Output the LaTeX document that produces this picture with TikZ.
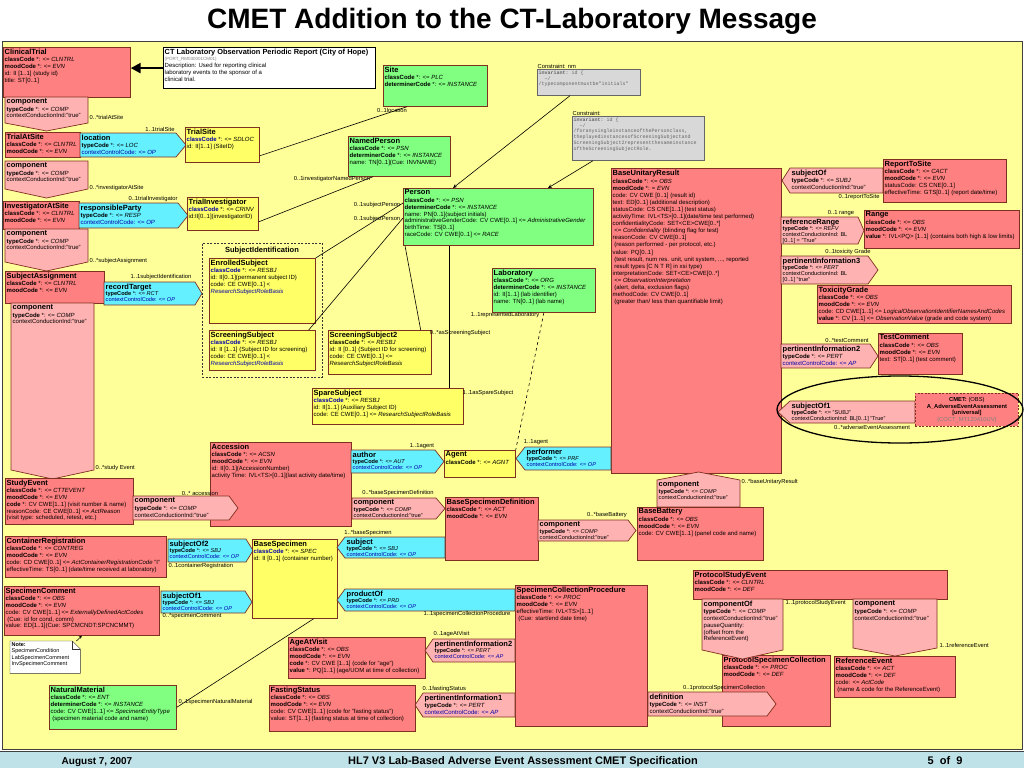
\documentclass[tikz,border=0pt]{standalone}
\usepackage{fontspec}
\setmainfont{Liberation Sans}
\setmonofont{Liberation Mono}
\usetikzlibrary{arrows.meta}
\definecolor{bgyellow}{RGB}{255,255,153}
\definecolor{clsred}{RGB}{255,128,128}
\definecolor{relpink}{RGB}{255,178,178}
\definecolor{ctlcyan}{RGB}{100,240,255}
\definecolor{entgreen}{RGB}{128,255,128}
\definecolor{roleyellow}{RGB}{255,255,102}
\definecolor{bord}{RGB}{128,48,32}
\definecolor{hlblue}{RGB}{0,0,170}
\definecolor{consgray}{RGB}{216,216,216}
\definecolor{footblue}{RGB}{190,226,232}
\newcommand\cn[1]{{\fontsize{7.5}{8}\selectfont\bfseries #1}\\[0.8pt]}
\tikzset{
  cls/.style={draw=bord, line width=0.7pt, fill=clsred, anchor=north west, inner sep=0pt},
  ent/.style={cls, fill=entgreen},
  role/.style={cls, fill=roleyellow},
  cons/.style={cls, fill=consgray, draw=black!60},
  rel/.style={draw=bord, line width=0.7pt, fill=relpink},
  ctl/.style={rel, fill=ctlcyan},
  txt/.style={anchor=north west, align=left, inner sep=1.5pt},
  tight/.style={txt, font=\fontsize{5.6}{5.9}\selectfont},
  ctxt/.style={txt, font=\fontsize{5}{5.8}\selectfont\ttfamily, text=black!60},
  lbl/.style={font=\fontsize{5.8}{6}\selectfont, inner sep=0.5pt},
  conn/.style={black, line width=0.6pt},
}
\begin{document}
\begin{tikzpicture}[x=1pt, y=-1pt, font=\fontsize{6}{6.8}\selectfont]
\useasboundingbox (0,0) rectangle (1024,768);
\fill[white] (0,0) rectangle (1024,768);
\draw[fill=bgyellow, draw=black!75, line width=0.8pt] (2,41) rectangle (1022,749);
\fill[footblue] (0,752) rectangle (1024,768);
\draw[black!75, line width=1pt] (0,751) -- (1024,751);
\node[anchor=base, font=\fontsize{28}{30}\selectfont\bfseries] (title) at (512,29) {CMET Addition to the CT-Laboratory Message};
\node[anchor=base, font=\fontsize{10}{12}\selectfont\bfseries] (date) at (97,764) {August 7, 2007};
\node[anchor=base, font=\fontsize{11}{12}\selectfont\bfseries] (spec) at (523,764) {HL7 V3 Lab-Based Adverse Event Assessment CMET Specification};
\node[anchor=base, font=\fontsize{11}{12}\selectfont\bfseries] (page) at (945,764) {5\ \ of\ \ 9};

% entry point
\node[draw=black, line width=1.2pt, fill=white, anchor=north west, minimum width=212pt, minimum height=41pt, inner sep=0pt] (hdr) at (163,47) {};
\node[txt] (hdr-t) at (hdr.north west) {{\fontsize{7.4}{8}\selectfont\bfseries CT Laboratory Observation Periodic Report (City of Hope)}\\{\fontsize{4.5}{5}\selectfont\color{gray}(PORT\_RM030001CM01)}\\Description: Used for reporting clinical\\laboratory events to the sponsor of a\\clinical trial.};
\node[cls, minimum width=127pt, minimum height=50pt] (clin) at (3,47) {};
\node[txt] (clin-t) at (clin.north west) {\cn{ClinicalTrial}\textbf{classCode} *: <= \textit{CLNTRL}\\\textbf{moodCode} *: <= \textit{EVN}\\id: II [1..1] (study id)\\title: ST[0..1]};
\draw[line width=2.5pt, -{Triangle[length=10pt, width=10pt]}] (hdr.west) -- (hdr.west -| clin.east);

% trial site
\draw[rel] (5,97) -- (88,97) -- (88,123) -- (46.5,131) -- (5,123) -- cycle;
\node[txt] (compa-t) at (5,97) {\cn{component}\textbf{typeCode} *: <= \textit{COMP}\\contextConductionInd:"true"};
\node[lbl, anchor=west] (la) at (89,117) {0..*trialAtSite};
\node[cls, minimum width=75pt, minimum height=25pt] (tas) at (5,132) {};
\node[txt] (tas-t) at (tas.north west) {\cn{TrialAtSite}\textbf{classCode} *: <= \textit{CLNTRL}\\\textbf{moodCode} *: <= \textit{EVN}};
\draw[ctl] (80,133) -- (176,133) -- (186,145) -- (176,157) -- (80,157) -- cycle;
\node[txt] (loc-t) at (80,133) {\cn{location}\textbf{typeCode} *: <= \textit{LOC}\\\color{hlblue}contextControlCode: <= \textit{OP}};
\node[lbl] (lb) at (160,129) {1..1trialSite};
\node[role, minimum width=74pt, minimum height=35pt] (tsite) at (185,127) {};
\node[txt] (tsite-t) at (tsite.north west) {\cn{TrialSite}{\color{hlblue}\textbf{classCode}} *: <= \textit{SDLOC}\\id: II[1..1] (SiteID)};

% investigator
\draw[rel] (5,161) -- (88,161) -- (88,189) -- (46.5,198) -- (5,189) -- cycle;
\node[txt] (compb-t) at (5,161) {\cn{component}\textbf{typeCode} *: <= \textit{COMP}\\contextConductionInd:"true"};
\node[lbl, anchor=west] (lc) at (89,188) {0..*investigatorAtSite};
\node[cls, minimum width=76pt, minimum height=28pt] (ias) at (3,201) {};
\node[txt] (ias-t) at (ias.north west) {\cn{InvestigatorAtSite}\textbf{classCode} *: <= \textit{CLNTRL}\\\textbf{moodCode} *: <= \textit{EVN}};
\draw[ctl] (79,203) -- (178,203) -- (188,215.5) -- (178,228) -- (79,228) -- cycle;
\node[txt] (resp-t) at (79,203) {\cn{responsibleParty}\textbf{typeCode} *: <= \textit{RESP}\\\color{hlblue}contextControlCode: <= \textit{OP}};
\node[lbl] (ld) at (153,199) {0..1trialInvestigator};
\node[role, minimum width=71pt, minimum height=33pt] (tinv) at (187,197) {};
\node[txt] (tinv-t) at (tinv.north west) {\cn{TrialInvestigator}{\color{hlblue}\textbf{classCode}} *: <= \textit{CRINV}\\id:II[0..1](investigatorID)};

% subject assignment
\draw[rel] (5,229) -- (88,229) -- (88,262) -- (46.5,271) -- (5,262) -- cycle;
\node[txt] (compc-t) at (5,229) {\cn{component}\textbf{typeCode} *: <= \textit{COMP}\\contextConductionInd:"true"};
\node[lbl, anchor=west] (le) at (89,261) {0..*subjectAssignment};
\node[cls, minimum width=99pt, minimum height=32pt] (sasg) at (5,271) {};
\node[txt] (sasg-t) at (sasg.north west) {\cn{SubjectAssignment}\textbf{classCode} *: <= \textit{CLNTRL}\\\textbf{moodCode} *: <= \textit{EVN}};
\draw[ctl] (104,282) -- (195,282) -- (202,293.5) -- (195,305) -- (104,305) -- cycle;
\node[tight] (rtgt-t) at (104,282) {\cn{recordTarget}\textbf{typeCode} *: <= \textit{RCT}\\\color{hlblue}contextControlCode: <= \textit{OP}};
\node[lbl] (lf) at (161,277) {1..1subjectIdentification};
\draw[rel] (11,303) -- (94,303) -- (94,470) -- (52.5,479) -- (11,470) -- cycle;
\node[txt] (compd-t) at (11,303) {\cn{component}\textbf{typeCode} *: <= \textit{COMP}\\contextConductionInd:"true"};
\node[lbl, anchor=west] (lg) at (95,468) {0..*study Event};

% subject identification
\node[draw=black!80, dash pattern=on 2pt off 1.5pt, anchor=north west, minimum width=120pt, minimum height=134pt, inner sep=0pt] (sid) at (202,243) {};
\node[font=\fontsize{7.5}{8}\selectfont\bfseries] (sid-t) at (262,251) {SubjectIdentification};
\node[role, minimum width=106pt, minimum height=65pt] (esubj) at (209,258) {};
\node[txt] (esubj-t) at (esubj.north west) {\cn{EnrolledSubject}{\color{hlblue}\textbf{classCode}} *: <= \textit{RESBJ}\\id: II[0..1](permanent subject ID)\\code: CE CWE[0..1] <\\{\color{hlblue}\textit{ResearchSubjectRoleBasis}}};
\node[role, minimum width=106pt, minimum height=40pt] (ssubj) at (209,330) {};
\node[txt] (ssubj-t) at (ssubj.north west) {\cn{ScreeningSubject}{\color{hlblue}\textbf{classCode}} *: <= \textit{RESBJ}\\id: II [1..1] (Subject ID for screening)\\code: CE CWE[0..1] <\\{\color{hlblue}\textit{ResearchSubjectRoleBasis}}};
\node[role, minimum width=103pt, minimum height=44pt] (ss2) at (328,330) {};
\node[txt] (ss2-t) at (ss2.north west) {\cn{ScreeningSubject2}\textbf{classCode} *: <= \textit{RESBJ}\\id: II [0..1] (Subject ID for screening)\\code: CE CWE[0..1] <=\\\textit{ResearchSubjectRoleBasis}};
\node[role, minimum width=151pt, minimum height=36pt] (spare) at (312,388) {};
\node[txt] (spare-t) at (spare.north west) {\cn{SpareSubject}{\color{hlblue}\textbf{classCode}} *: <= \textit{RESBJ}\\id: II[1..1] (Auxiliary Subject ID)\\code: CE CWE[0..1] <= \textit{ResearchSubjectRoleBasis}};

% entities
\node[ent, minimum width=104pt, minimum height=41pt] (site) at (383,65) {};
\node[txt] (site-t) at (site.north west) {\cn{Site}\textbf{classCode} *: <= \textit{PLC}\\\textbf{determinerCode} *: <= \textit{INSTANCE}};
\node[lbl] (lh) at (392,110) {0..1location};
\node[ent, minimum width=102pt, minimum height=40pt] (nper) at (348,136) {};
\node[txt] (nper-t) at (nper.north west) {\cn{NamedPerson}\textbf{classCode} *: <= \textit{PSN}\\\textbf{determinerCode} *: <= \textit{INSTANCE}\\name: TN[0..1](Cue: INVNAME)};
\node[lbl] (li) at (332,179) {0..1investigatorNamedPerson};
\node[ent, minimum width=190pt, minimum height=57pt] (person) at (403,188) {};
\node[txt] (person-t) at (person.north west) {\cn{Person}\textbf{classCode} *: <= \textit{PSN}\\\textbf{determinerCode} *: <= \textit{INSTANCE}\\name: PN[0..1](subject initials)\\administrativeGenderCode: CV CWE[0..1] <= \textit{AdministrativeGender}\\birthTime: TS[0..1]\\raceCode: CV CWE[0..1] <= \textit{RACE}};
\node[lbl] (lj) at (377,205) {0..1subjectPerson};
\node[lbl] (lk) at (377,219) {0..1subjectPerson};
\node[ent, minimum width=103pt, minimum height=44pt] (lab) at (492,268) {};
\node[txt] (lab-t) at (lab.north west) {\cn{Laboratory}\textbf{classCode} *: <= \textit{ORG}\\\textbf{determinerCode} *: <= \textit{INSTANCE}\\id: II[1..1] (lab identifier)\\name: TN[0..1] (lab name)};
\node[lbl] (ll) at (505,315) {1..1representedLaboratory};
\node[lbl] (lm) at (460,333) {0..*asScreeningSubject};
\node[lbl] (ln) at (488,393) {1..1asSpareSubject};

% constraints
\node[cons, minimum width=103pt, minimum height=26pt] (c1) at (537,69) {};
\node[lbl, anchor=south west] (c1-l) at (537,69.5) {Constraint: nm};
\node[ctxt] (c1-t) at (c1.north west) {\textbf{invariant}: id \{\\\ \ \textasciitilde/\\/typecomponentmustbe"initials"};
\node[cons, minimum width=132pt, minimum height=44pt] (c2) at (572,116) {};
\node[lbl, anchor=south west] (c2-l) at (572,116.5) {Constraint:};
\node[ctxt] (c2-t) at (c2.north west) {\textbf{invariant}: id \{\\\ \ \textasciitilde/\\/foranysingleinstanceofthePersonclass,\\theplayedinstancesofScreeningSubjectand\\ScreeningSubject2representthesameinstance\\oftheScreeningSubjectRole.};

% connectors
\draw[conn] ([yshift=-11pt]tsite.east) -- ([xshift=24pt]site.south west);
\draw[conn] ([yshift=-8pt]tinv.east) -- ([xshift=25pt]nper.south west);
\draw[conn] (esubj.north east) -- ([yshift=-15pt]person.north west);
\draw[conn] ([xshift=-7pt]ssubj.north east) -- ([yshift=-30pt]person.north west);
\draw[conn] ([xshift=2pt]person.south west) -- ([xshift=-11pt]ss2.north east);
\draw[conn] ([xshift=46pt]person.south west) -- ([xshift=137pt]spare.north west);
\draw[conn, -{Stealth[length=4pt, width=3.5pt]}] ([xshift=33pt]c1.south west) -- ([xshift=50pt]person.north west);
\draw[conn, -{Stealth[length=4pt, width=3.5pt]}] ([xshift=21pt]c2.south west) -- ([xshift=145pt]person.north west);

% base unitary result
\node[cls, minimum width=170pt, minimum height=305pt] (bur) at (611,168) {};
\node[txt, font=\fontsize{6}{7.1}\selectfont] (bur-t) at (bur.north west) {\cn{BaseUnitaryResult}\textbf{classCode} *: <= \textit{OBS}\\\textbf{moodCode} *: = \textit{EVN}\\code: CV CWE [0..1] (result id)\\text: ED[0..1] (additional description)\\statusCode: CS CNE[1..1] (test status)\\activityTime: IVL<TS>[0..1](date/time test performed)\\confidentialityCode: SET<CE>CWE[0..*]\\\ <= \textit{Confidentiality} (blinding flag for test)\\reasonCode: CV CWE[0..1]\\\ (reason performed - per protocol, etc.)\\value: PQ[0..1]\\\ (test result, num res. unit, unit system, ..., reported\\\ result types [C N T R] in xsi type)\\interpretationCode: SET<CE>CWE[0..*]\\\ <= \textit{ObservationInterpretation}\\\ (alert, delta, exclusion flags)\\methodCode: CV CWE[0..1]\\\ (greater than/ less than quantifiable limit)};

\draw[rel] (782,180.5) -- (790,168) -- (883,168) -- (883,193) -- (790,193) -- cycle;
\node[txt] (subj-t) at (790,168) {\cn{subjectOf}\textbf{typeCode} *: <= \textit{SUBJ}\\contextConductionInd:"true"};
\node[lbl] (lo) at (859,197) {0..1reportToSite};
\node[cls, minimum width=123pt, minimum height=43pt] (rts) at (883,159) {};
\node[txt] (rts-t) at (rts.north west) {\cn{ReportToSite}\textbf{classCode} *: <= \textit{CACT}\\\textbf{moodCode} *: <= \textit{EVN}\\statusCode: CS CNE[0..1]\\effectiveTime: GTS[0..1] (report date/time)};

\draw[rel] (781,217) -- (858,217) -- (864,230.5) -- (858,244) -- (781,244) -- cycle;
\node[tight] (rng-t) at (781,217) {\cn{referenceRange}\textbf{typeCode} *: <= \textit{REFV}\\contextConductionInd: BL\\{}[0..1] = "True"};
\node[lbl] (lp) at (841,213) {0..1 range};
\node[cls, minimum width=155pt, minimum height=38pt] (range) at (864,210) {};
\node[txt] (range-t) at (range.north west) {\cn{Range}\textbf{classCode} *: <= \textit{OBS}\\\textbf{moodCode} *: <= \textit{EVN}\\\textbf{value} *: IVL<PQ> [1..1] (contains both high \& low limits)};

\node[cls, minimum width=194pt, minimum height=38pt] (tox) at (817,285) {};
\node[txt] (tox-t) at (tox.north west) {\cn{ToxicityGrade}\textbf{classCode} *: <= \textit{OBS}\\\textbf{moodCode} *: <= \textit{EVN}\\code: CD CWE[1..1] <= \textit{LogicalObservationIdentifierNamesAndCodes}\\\textbf{value} *: CV [1..1] <= \textit{ObservationValue} (grade and code system)};
\draw[rel] (781,256) -- (868,256) -- (878,270) -- (868,284) -- (781,284) -- cycle;
\node[tight] (pi3-t) at (781,256) {\cn{pertinentInformation3}\textbf{typeCode} *: <= \textit{PERT}\\contextConductionInd: BL\\{}[0..1] "true"};
\node[lbl] (lq) at (848,252) {0..1toxicity Grade};

\draw[rel] (781,344) -- (870,344) -- (878,356) -- (870,368) -- (781,368) -- cycle;
\node[txt] (pi2r-t) at (781,344) {\cn{pertinentInformation2}\textbf{typeCode} *: <= \textit{PERT}\\\color{hlblue}contextControlCode: <= \textit{AP}};
\node[lbl] (lr) at (847,340) {0..*testComment};
\node[cls, minimum width=84pt, minimum height=41pt] (tcom) at (878,333) {};
\node[txt] (tcom-t) at (tcom.north west) {\cn{TestComment}\textbf{classCode} *: <= \textit{OBS}\\\textbf{moodCode} *: <= \textit{EVN}\\text: ST[0..1] (test comment)};

\draw[rel] (778,412) -- (790,401) -- (915,401) -- (915,423) -- (790,423) -- cycle;
\node[tight] (sof1-t) at (790,401) {\cn{subjectOf1}\textbf{typeCode} *: <= "SUBJ"\\contextConductionInd: BL[0..1] "True"};
\node[lbl] (ls) at (872,427) {0..*adverseEventAssessment};
\node[draw=bord, dash pattern=on 2pt off 1.5pt, fill=clsred, line width=0.8pt, anchor=north west, minimum width=103pt, minimum height=33pt, align=center, inner sep=0pt, font=\fontsize{5.8}{6.6}\selectfont] (cmet) at (915,393) {\textbf{CMET:} (OBS)\\\textbf{A\_AdverseEventAssessment}\\\textbf{[universal]}\\{\color{gray}(COCT\_MT120410UV)}};
\draw[line width=1.3pt] (900,409.5) ellipse [x radius=123pt, y radius=33.5pt];

% battery
\node[lbl, anchor=west] (lt) at (741,482) {0..*baseUnitaryResult};
\draw[rel] (657,507) -- (657,480) -- (698.5,472) -- (740,480) -- (740,507) -- cycle;
\node[tight] (comph-t) at (657,480) {\cn{component}\textbf{typeCode} *: <= \textit{COMP}\\contextConductionInd:"true"};
\node[cls, minimum width=126pt, minimum height=53pt] (bbat) at (637,507) {};
\node[txt] (bbat-t) at (bbat.north west) {\cn{BaseBattery}\textbf{classCode} *: <= \textit{OBS}\\\textbf{moodCode} *: <= \textit{EVN}\\code: CV CWE[1..1] (panel code and name)};

% accession
\node[cls, minimum width=141pt, minimum height=84pt] (acc) at (210,442) {};
\node[txt] (acc-t) at (acc.north west) {\cn{Accession}\textbf{classCode} *: <= \textit{ACSN}\\\textbf{moodCode} *: <= \textit{EVN}\\id: II[0..1](AccessionNumber)\\activity Time: IVL<TS>[0..1](last activity date/time)};
\node[cls, minimum width=128pt, minimum height=46pt] (sevt) at (5,478) {};
\node[txt] (sevt-t) at (sevt.north west) {\cn{StudyEvent}\textbf{classCode} *: <= \textit{CTTEVENT}\\\textbf{moodCode} *: <= \textit{EVN}\\\textbf{code} *: CV CWE[1..1] (visit number \& name)\\reasonCode: CE CWE[0..1] <= \textit{ActReason}\\(visit type: scheduled, retest, etc.)};
\draw[rel] (133,496) -- (229,496) -- (238,508) -- (229,520) -- (133,520) -- cycle;
\node[txt] (compe-t) at (133,496) {\cn{component}\textbf{typeCode} *: <= \textit{COMP}\\contextConductionInd:"true"};
\node[lbl] (lu) at (200,493) {0..* accession};

\draw[ctl] (351,450) -- (435,450) -- (444,461.5) -- (435,473) -- (351,473) -- cycle;
\node[tight] (auth-t) at (351,450) {\cn{author}\textbf{typeCode} *: <= \textit{AUT}\\\color{hlblue}contextControlCode: <= \textit{OP}};
\node[lbl] (lv) at (422,446) {1..1agent};
\node[role, minimum width=71pt, minimum height=27pt] (agent) at (444,450) {};
\node[txt] (agent-t) at (agent.north west) {\cn{Agent}\textbf{classCode} *: <= \textit{AGNT}};
\draw[conn, dashed] (lab.south) -- (agent.north east);
\draw[ctl] (516,458.5) -- (525,447) -- (611,447) -- (611,470) -- (525,470) -- cycle;
\node[tight] (perf-t) at (525,447) {\cn{performer}\textbf{typeCode} *: <= \textit{PRF}\\\color{hlblue}contextControlCode: <= \textit{OP}};
\node[lbl] (lw) at (536,442) {1..1agent};

\draw[rel] (352,498) -- (436,498) -- (445,508.5) -- (436,519) -- (352,519) -- cycle;
\node[tight] (compf-t) at (352,498) {\cn{component}\textbf{typeCode} *: <= \textit{COMP}\\contextConductionInd:"true"};
\node[lbl] (lx) at (398,493) {0..*baseSpecimenDefinition};
\node[cls, minimum width=93pt, minimum height=63pt] (bsd) at (445,497) {};
\node[txt] (bsd-t) at (bsd.north west) {\cn{BaseSpecimenDefinition}\textbf{classCode} *: <= \textit{ACT}\\\textbf{moodCode} *: <= \textit{EVN}};
\draw[rel] (538,520) -- (628,520) -- (636,530.5) -- (628,541) -- (538,541) -- cycle;
\node[tight] (compg-t) at (538,520) {\cn{component}\textbf{typeCode} *: <= \textit{COMP}\\contextConductionInd:"true"};
\node[lbl] (ly) at (607,515) {0..*baseBattery};

% specimen
\node[cls, minimum width=161pt, minimum height=41pt] (creg) at (5,536) {};
\node[txt] (creg-t) at (creg.north west) {\cn{ContainerRegistration}\textbf{classCode} *: <= \textit{CONTREG}\\\textbf{moodCode} *: <= \textit{EVN}\\code: CD CWE[0..1] <= \textit{ActContainerRegistrationCode} "I"\\effectiveTime: TS[0..1] (date/time received at laboratory)};
\draw[ctl] (168,539) -- (246,539) -- (253,550.5) -- (246,562) -- (168,562) -- cycle;
\node[tight] (sof2-t) at (168,539) {\cn{subjectOf2}\textbf{typeCode} *: <= \textit{SBJ}\\\color{hlblue}contextControlCode: <= \textit{OP}};
\node[lbl, anchor=west] (lz) at (168,566) {0..1containerRegistration};
\node[role, minimum width=85pt, minimum height=79pt] (bspec) at (252,539) {};
\node[txt] (bspec-t) at (bspec.north west) {\cn{BaseSpecimen}{\color{hlblue}\textbf{classCode}} *: <= \textit{SPEC}\\id: II [0..1] (container number)};
\draw[ctl] (337,547.5) -- (345,537) -- (445,537) -- (445,558) -- (345,558) -- cycle;
\node[tight] (sbj-t) at (345,537) {\cn{subject}\textbf{typeCode} *: <= \textit{SBJ}\\\color{hlblue}contextControlCode: <= \textit{OP}};
\node[lbl] (laa) at (368,533) {1..*baseSpecimen};

\node[cls, minimum width=155pt, minimum height=49pt] (scom) at (4,586) {};
\node[txt] (scom-t) at (scom.north west) {\cn{SpecimenComment}\textbf{classCode} *: <= \textit{OBS}\\\textbf{moodCode} *: <= \textit{EVN}\\code: CV CWE[1..1] <= \textit{ExternallyDefinedActCodes}\\\ (Cue: id for cond, comm)\\value: ED[1..1](Cue: SPCMCNDT:SPCNCMMT)};
\draw[ctl] (161,591) -- (245,591) -- (252,602) -- (245,613) -- (161,613) -- cycle;
\node[tight] (sof1l-t) at (161,591) {\cn{subjectOf1}\textbf{typeCode} *: <= \textit{SBJ}\\\color{hlblue}contextControlCode: <= \textit{OP}};
\node[lbl, anchor=west] (lab2) at (162,616) {0..*specimenComment};

\node[anchor=north west, minimum width=70pt, minimum height=32pt, inner sep=0pt] (note) at (10,641) {};
\draw[draw=black!80, fill=white] (note.north west) -- ([xshift=-8pt]note.north east) -- ([yshift=-8pt]note.north east) -- (note.south east) -- (note.south west) -- cycle;
\draw[draw=black!80] ([xshift=-8pt]note.north east) |- ([yshift=-8pt]note.north east);
\node[txt, font=\fontsize{5.5}{6.3}\selectfont] (note-t) at (note.north west) {\textbf{Note:}\\SpecimenCondition\\LabSpecimenComment\\InvSpecimenComment};
\draw[conn, -{Stealth[length=3pt, width=3pt]}] ([xshift=-4pt]note.north east) -- (scom.south);

\node[ent, minimum width=127pt, minimum height=44pt] (nmat) at (49,685) {};
\node[txt] (nmat-t) at (nmat.north west) {\cn{NaturalMaterial}\textbf{classCode} *: <= \textit{ENT}\\\textbf{determinerCode} *: <= \textit{INSTANCE}\\code: CV CWE[1..1] <= \textit{SpecimenEntityType}\\\ (specimen material code and name)};
\node[lbl, anchor=west] (lac) at (178,702) {0..1specimenNaturalMaterial};
\draw[conn] (nmat.east) -- ([xshift=-24pt]bspec.south east);

% collection procedure
\node[cls, minimum width=132pt, minimum height=141pt] (scp) at (515,585) {};
\node[txt] (scp-t) at (scp.north west) {\cn{SpecimenCollectionProcedure}\textbf{classCode} *: <= \textit{PROC}\\\textbf{moodCode} *: <= \textit{EVN}\\effectiveTime: IVL<TS>[1..1]\\\ (Cue: start/end date time)};
\draw[ctl] (337,600) -- (345,589) -- (515,589) -- (515,611) -- (345,611) -- cycle;
\node[tight] (prod-t) at (345,589) {\cn{productOf}\textbf{typeCode} *: <= \textit{PRD}\\\color{hlblue}contextControlCode: <= \textit{OP}};
\node[lbl] (lad) at (467,614) {1..1specimenCollectionProcedure};
\node[cls, minimum width=137pt, minimum height=41pt] (age) at (288,637) {};
\node[txt] (age-t) at (age.north west) {\cn{AgeAtVisit}\textbf{classCode} *: <= \textit{OBS}\\\textbf{moodCode} *: <= \textit{EVN}\\\textbf{code} *: CV CWE [1..1] (code for "age")\\\textbf{value} *: PQ[1..1] (age/UOM at time of collection)};
\draw[rel] (425,650.5) -- (433,639) -- (515,639) -- (515,662) -- (433,662) -- cycle;
\node[tight] (pi2l-t) at (433,639) {\cn{pertinentInformation2}\textbf{typeCode} *: <= \textit{PERT}\\\color{hlblue}contextControlCode: <= \textit{AP}};
\node[lbl, anchor=west] (lae) at (433,634) {0..1ageAtVisit};
\node[cls, minimum width=146pt, minimum height=46pt] (fast) at (269,685) {};
\node[txt] (fast-t) at (fast.north west) {\cn{FastingStatus}\textbf{classCode} *: <= \textit{OBS}\\\textbf{moodCode} *: <= \textit{EVN}\\code: CV CWE[1..1] (code for "fasting status")\\value: ST[1..1] (fasting status at time of collection)};
\draw[rel] (415,705) -- (423,693) -- (515,693) -- (515,717) -- (423,717) -- cycle;
\node[txt] (pi1-t) at (423,693) {\cn{pertinentInformation1}\textbf{typeCode} *: <= \textit{PERT}\\\color{hlblue}contextControlCode: <= \textit{AP}};
\node[lbl, anchor=west] (laf) at (422,689) {0..1fastingStatus};

% protocol
\node[cls, minimum width=254pt, minimum height=29pt] (pse) at (693,570) {};
\node[txt] (pse-t) at (pse.north west) {\cn{ProtocolStudyEvent}\textbf{classCode} *: <= \textit{CLNTRL}\\\textbf{moodCode} *: <= \textit{DEF}};
\node[cls, minimum width=108pt, minimum height=71pt] (psc) at (722,655) {};
\node[txt] (psc-t) at (psc.north west) {\cn{ProtocolSpecimenCollection}\textbf{classCode} *: <= \textit{PROC}\\\textbf{moodCode} *: <= \textit{DEF}};
\draw[rel] (702,599) -- (783,599) -- (783,650) -- (742.5,659) -- (702,650) -- cycle;
\node[txt] (cof-t) at (702,599) {\cn{componentOf}\textbf{typeCode} *: <= \textit{COMP}\\contextConductionInd:"true"\\pauseQuantity:\\(offset from the\\ReferenceEvent)};
\node[lbl, anchor=west] (lag) at (785,603) {1..1protocolStudyEvent};
\node[cls, minimum width=121pt, minimum height=41pt] (refe) at (834,656) {};
\node[txt] (refe-t) at (refe.north west) {\cn{ReferenceEvent}\textbf{classCode} *: <= \textit{ACT}\\\textbf{moodCode} *: <= \textit{DEF}\\code: <= \textit{ActCode}\\\ (name \& code for the ReferenceEvent)};
\draw[rel] (853,599) -- (937,599) -- (937,648) -- (895,656) -- (853,648) -- cycle;
\node[txt] (compr-t) at (853,599) {\cn{component}\textbf{typeCode} *: <= \textit{COMP}\\contextConductionInd:"true"};
\node[lbl, anchor=west] (lah) at (939,645) {1..1referenceEvent};
\draw[rel] (648,692) -- (767,692) -- (776,704) -- (767,716) -- (648,716) -- cycle;
\node[txt] (def-t) at (648,692) {\cn{definition}\textbf{typeCode} *: <= \textit{INST}\\contextConductionInd:"true"};
\node[lbl] (lai) at (724,688) {0..1protocolSpecimenCollection};
\end{tikzpicture}
\end{document}
